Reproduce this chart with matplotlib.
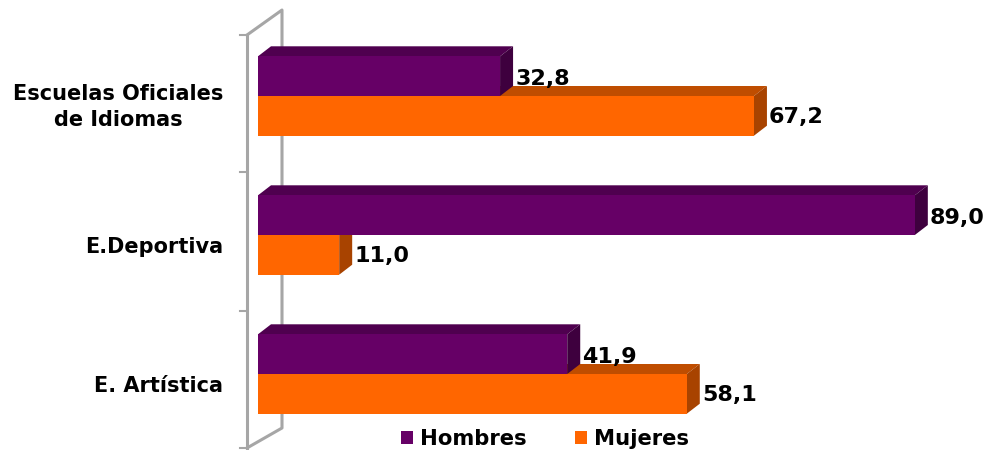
import matplotlib
matplotlib.use("Agg")
import matplotlib.pyplot as plt
from matplotlib.patches import Polygon, Patch
from matplotlib.lines import Line2D
from matplotlib import transforms

categories = ["Escuelas Oficiales\nde Idiomas", "E.Deportiva", "E. Artística"]
hombres = [32.8, 89.0, 41.9]
mujeres = [67.2, 11.0, 58.1]
labels = {"Hombres": hombres, "Mujeres": mujeres}

W, H = 986, 450
PX_X = 7.38      # px per value unit
PX_Y = 139.0     # px per category
CENTER0 = 96.0   # px of first category centre
X0 = 258.0
DX, DY = 13.0, 10.0
BAR = 39.7

COL = {"Hombres": ("#660066", "#4F004F", "#3E003E"),
       "Mujeres": ("#FF6600", "#BF4D00", "#A84300")}

plt.rcParams["font.family"] = ["DejaVu Sans"]
plt.rcParams["font.weight"] = "bold"
fig = plt.figure(figsize=(W / 100, H / 100), dpi=100, facecolor="white")
ax = fig.add_axes([X0 / W, 0, 1 - X0 / W, 1])
ax.set_xlim(0, (W - X0) / PX_X)
ax.set_ylim((H - CENTER0) / PX_Y, -CENTER0 / PX_Y)
ax.patch.set_alpha(0)
for s in ax.spines.values():
    s.set_visible(False)
ax.xaxis.set_visible(False)

# wall (pixel coordinates of the decorative frame)
px = transforms.Affine2D().scale(1 / W, -1 / H).translate(0, 1) + fig.transFigure
wall = dict(color="#A6A6A6", lw=2.2, transform=px, zorder=0, solid_capstyle="projecting", clip_on=False)
fig.add_artist(Line2D([247, 247], [35, 448], **wall))
fig.add_artist(Line2D([247, 282, 282, 247], [35, 10, 428, 448], **wall))
for yy in (35, 172, 311, 448):
    fig.add_artist(Line2D([240, 247], [yy, yy], color="#A6A6A6", lw=1.5, transform=px, zorder=0))

dx = DX / PX_X
dy = DY / PX_Y
h = BAR / PX_Y


def bar3d(values, off, name):
    front, top, side = COL[name]
    for i, v in enumerate(values):
        y0 = i + off
        y1 = y0 + h
        ax.add_patch(Polygon([(0, y0), (dx, y0 - dy), (v + dx, y0 - dy), (v, y0)],
                             fc=top, ec="none", zorder=2 + 2 * (off < 0)))
        ax.add_patch(Polygon([(v, y0), (v + dx, y0 - dy), (v + dx, y1 - dy), (v, y1)],
                             fc=side, ec="none", zorder=2 + 2 * (off < 0)))
    ax.barh([i + off + h / 2 for i in range(len(values))], values, height=h,
            color=front, zorder=3 + 2 * (off < 0), label=name)


bar3d(mujeres, 0, "Mujeres")
bar3d(hombres, -h, "Hombres")

for name, vals in labels.items():
    off = -h / 2 if name == "Hombres" else h / 2
    shift = -3 if name == "Hombres" else -1
    for i, v in enumerate(vals):
        ax.annotate(f"{v:.1f}".replace(".", ","), (v + dx, i + off),
                    xytext=(2, shift), textcoords="offset pixels",
                    ha="left", va="center", fontsize=16, fontweight="bold",
                    color="black", zorder=8, annotation_clip=False)

ax.set_yticks(range(len(categories)))
ax.set_yticklabels(categories, fontsize=15, fontweight="bold", multialignment="center", linespacing=1.35)
ax.tick_params(axis="y", length=0, pad=25)
for t, down in zip(ax.get_yticklabels(), (6, 10, 10)):
    shift = transforms.ScaledTranslation(0, -down / 100, fig.dpi_scale_trans)
    t.set_transform(t.get_transform() + shift)

handles = [Patch(fc=COL[n][0], ec="none", label=n) for n in ("Hombres", "Mujeres")]
ax.legend(handles=handles, ncol=2, loc="center", frameon=False,
          bbox_to_anchor=(545 / W, 1 - 439 / H), bbox_transform=fig.transFigure,
          fontsize=15.2, handlelength=0.57, handleheight=0.57, handletextpad=0.33,
          columnspacing=2.27, borderpad=0, labelspacing=0)

fig.savefig("out.png", dpi=100)
